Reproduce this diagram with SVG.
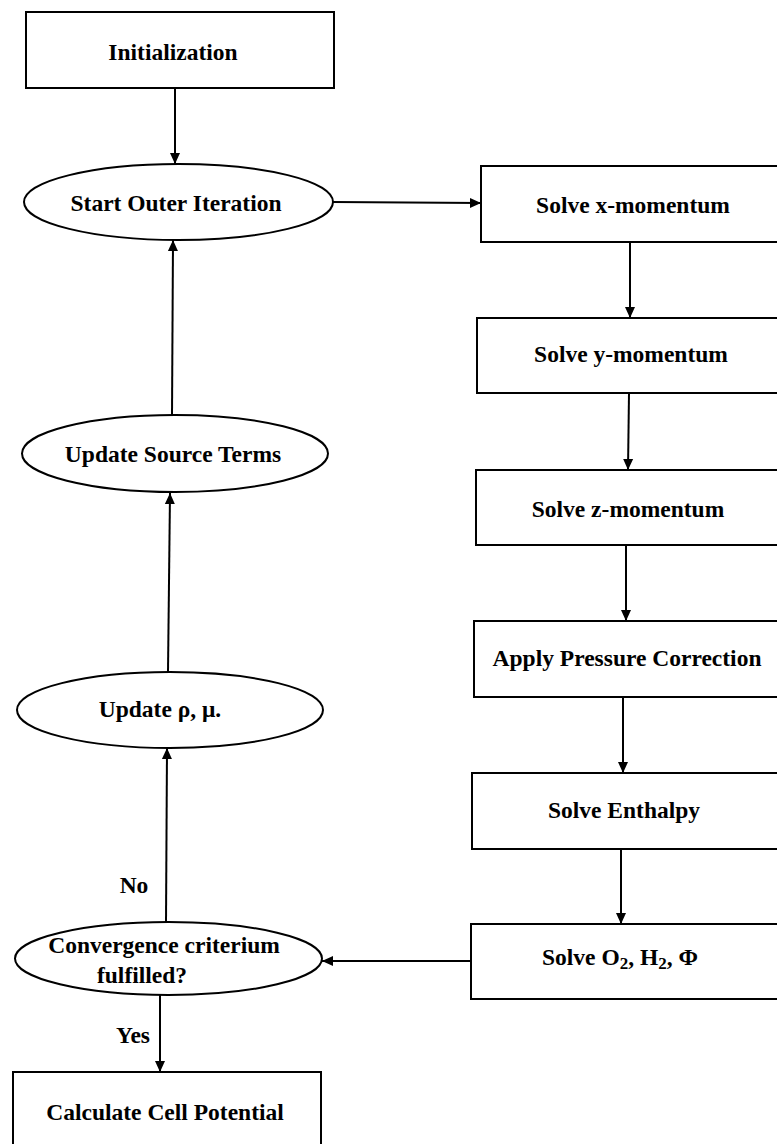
<svg xmlns="http://www.w3.org/2000/svg" width="777" height="1144" viewBox="0 0 777 1144">
<style>
.box{fill:#fff;stroke:#000;stroke-width:2}
.ell{fill:#fff;stroke:#000;stroke-width:2}
.t{font-family:"Liberation Serif","Times New Roman",serif;font-weight:bold;font-size:23.5px;fill:#000;text-anchor:middle}
.c{stroke:#000;stroke-width:2;fill:none;marker-end:url(#ah)}
</style>
<defs>
<marker id="ah" markerUnits="userSpaceOnUse" markerWidth="12" markerHeight="12" refX="11" refY="5" orient="auto" viewBox="0 0 12 10">
<path d="M0,0 L11,5 L0,10 z" fill="#000"/>
</marker>
</defs>
<rect width="777" height="1144" fill="#fff"/>
<g id="connectors">
<line class="c" x1="175" y1="88" x2="175" y2="164"/>
<line class="c" x1="333" y1="202" x2="481" y2="203"/>
<line class="c" x1="630" y1="242" x2="630" y2="318"/>
<line class="c" x1="629" y1="393" x2="628" y2="470"/>
<line class="c" x1="626" y1="545" x2="626" y2="621"/>
<line class="c" x1="623" y1="697" x2="623" y2="773"/>
<line class="c" x1="621" y1="849" x2="621" y2="924"/>
<line class="c" x1="471" y1="961" x2="322" y2="961"/>
<line class="c" x1="166" y1="922" x2="167" y2="748"/>
<line class="c" x1="168" y1="672" x2="170" y2="493"/>
<line class="c" x1="172" y1="415" x2="173" y2="240"/>
<line class="c" x1="160" y1="995" x2="160" y2="1072"/>
<text class="t" x="134" y="893">No</text>
<text class="t" x="133" y="1043">Yes</text>
</g>
<g id="init">
<rect class="box" x="26" y="12" width="308" height="76"/>
<text class="t" x="173" y="60">Initialization</text>
</g>
<g id="start">
<ellipse class="ell" cx="178.5" cy="202" rx="154.5" ry="38"/>
<text class="t" x="176" y="211">Start Outer Iteration</text>
</g>
<g id="xmom">
<rect class="box" x="481" y="166" width="310" height="76"/>
<text class="t" x="633" y="213">Solve x-momentum</text>
</g>
<g id="ymom">
<rect class="box" x="477" y="318" width="314" height="75"/>
<text class="t" x="631" y="362">Solve y-momentum</text>
</g>
<g id="zmom">
<rect class="box" x="476" y="470" width="315" height="75"/>
<text class="t" x="628" y="517">Solve z-momentum</text>
</g>
<g id="pressure">
<rect class="box" x="474" y="621" width="317" height="76"/>
<text class="t" x="627" y="666">Apply Pressure Correction</text>
</g>
<g id="enthalpy">
<rect class="box" x="472" y="773" width="319" height="76"/>
<text class="t" x="624" y="818">Solve Enthalpy</text>
</g>
<g id="species">
<rect class="box" x="471" y="924" width="320" height="75"/>
<text class="t" x="620" y="965">Solve O<tspan font-size="17" dy="4">2</tspan><tspan dy="-4">, H</tspan><tspan font-size="17" dy="4">2</tspan><tspan dy="-4">, Φ</tspan></text>
</g>
<g id="convergence">
<ellipse class="ell" cx="168.5" cy="958.5" rx="153.5" ry="36.5"/>
<text class="t" x="164" y="953">Convergence criterium</text>
<text class="t" x="142" y="983">fulfilled?</text>
</g>
<g id="update-rho">
<ellipse class="ell" cx="170" cy="710" rx="153" ry="38"/>
<text class="t" x="160" y="717">Update ρ, μ.</text>
</g>
<g id="update-source">
<ellipse class="ell" cx="175" cy="453.5" rx="153" ry="38.5"/>
<text class="t" x="173" y="462">Update Source Terms</text>
</g>
<g id="cell-potential">
<rect class="box" x="13" y="1072" width="308" height="80"/>
<text class="t" x="165" y="1120">Calculate Cell Potential</text>
</g>
</svg>
